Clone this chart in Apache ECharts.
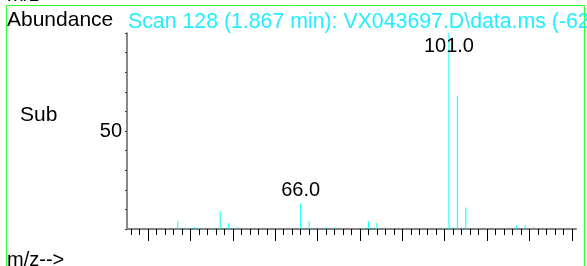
<!DOCTYPE html>
<html>
<head>
<meta charset="utf-8">
<script src="https://cdn.jsdelivr.net/npm/echarts@6/dist/echarts.min.js"></script>
<style>
  html, body { margin: 0; padding: 0; background: #fff; }
  #chart { width: 587px; height: 266px; }
</style>
</head>
<body>
<div id="chart"></div>
<script>
// m/z values and relative abundance
const mz = [36, 37, 39, 41, 42, 43, 45, 47, 49, 51, 66, 68, 70, 72, 74, 79, 81, 82, 84, 86, 100, 101, 102, 103, 104, 105, 117, 119, 121]
const abundance = [0.5, 4, 0.5, 1, 0.5, 0.5, 0.5, 9, 3, 1, 13, 4, 1, 1, 0.5, 0.5, 0.5, 4, 3, 1, 0.5, 100, 1, 68, 1, 11, 2, 2, 1]
const labelled = { 66: '66.0', 101: '101.0' }
const majorTicks = [30, 40, 50, 60, 70, 80, 90, 100, 110, 120, 130]
const minorTicks = [26, 28, 32, 34, 36, 38, 42, 44, 46, 48, 52, 54, 56, 58, 62, 64, 66, 68, 72, 74, 76, 78,
    82, 84, 86, 88, 92, 94, 96, 98, 102, 104, 106, 108, 112, 114, 116, 118, 122, 124, 126, 128]
const yLabels = [50]

const font = 'Liberation Sans, Arial, sans-serif'
const cyan = '#00ffff'

const myChart = echarts.init(document.getElementById('chart'))

const seriesData = mz.map((m, i) => {
    const item = { value: [m, abundance[i]] }
    if (labelled[m]) {
        item.label = {
            show: true,
            formatter: labelled[m],
            position: m === 101 ? 'insideTop' : 'top',
            distance: m === 101 ? 3 : 3,
            color: '#000',
            fontSize: 20,
            fontFamily: font
        }
    }
    if (m === 103) {
        item.itemStyle = { borderColor: cyan, borderWidth: 0.5 }
    }
    return item
})

const baseX = {
    type: 'value',
    position: 'bottom',
    min: 25,
    max: 131,
    splitLine: { show: false },
    axisLabel: { show: false }
}

const option = {
    animation: false,
    grid: { left: 127, right: 11, top: 33, bottom: 37 },
    xAxis: [
        Object.assign({}, baseX, {
            axisLine: { show: true, onZero: false, lineStyle: { color: '#808080', width: 2 } },
            axisTick: { show: true, customValues: majorTicks, length: 12, lineStyle: { color: '#000', width: 1 } }
        }),
        Object.assign({}, baseX, {
            axisLine: { show: false, onZero: false },
            axisTick: { show: true, customValues: minorTicks, length: 6, lineStyle: { color: '#000', width: 1 } }
        })
    ],
    yAxis: {
        type: 'value',
        min: 0,
        max: 100,
        interval: 10,
        splitLine: { show: false },
        axisLine: { show: true, lineStyle: { color: '#606060', width: 1.5 } },
        axisTick: { show: true, length: 2, lineStyle: { color: '#404040' } },
        axisLabel: {
            color: '#000',
            fontSize: 20,
            fontFamily: font,
            margin: 5,
            formatter: v => (yLabels.indexOf(v) >= 0 ? String(v) : '')
        }
    },
    series: [
        {
            type: 'bar',
            barWidth: 1,
            xAxisIndex: 0,
            itemStyle: { color: cyan },
            data: seriesData
        }
    ],
    graphic: [
        {
            type: 'rect',
            shape: { x: 6.5, y: 5.5, width: 578, height: 300 },
            style: { fill: 'none', stroke: '#33ff33', lineWidth: 1 },
            silent: true
        },
        {
            type: 'text', left: 7, top: -15,
            style: { text: 'm/z-->', fill: '#000', font: '20px ' + font }
        },
        {
            type: 'text', left: 7, top: 10,
            style: { text: 'Abundance', fill: '#000', font: '21px ' + font }
        },
        {
            type: 'text', left: 128, top: 12,
            style: { text: 'Scan 128 (1.867 min): VX043697.D\\data.ms (-62', fill: '#22eeff', font: '21.3px ' + font }
        },
        {
            type: 'text', left: 20, top: 105,
            style: { text: 'Sub', fill: '#000', font: '21px ' + font }
        },
        {
            type: 'text', left: 7, top: 250,
            style: { text: 'm/z-->', fill: '#000', font: '20px ' + font }
        }
    ]
}

myChart.setOption(option)
</script>
</body>
</html>
